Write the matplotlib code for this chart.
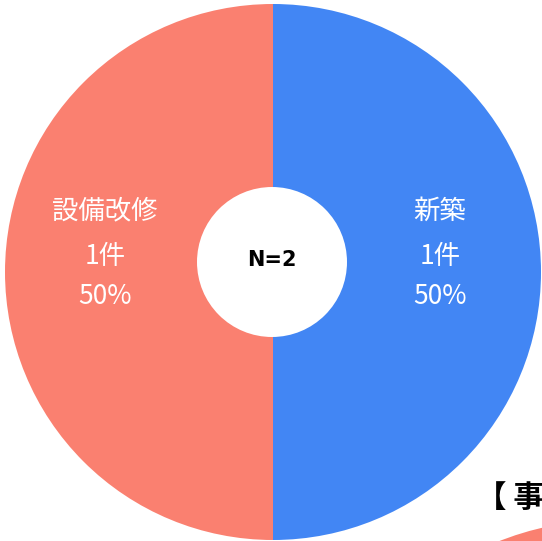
import matplotlib.pyplot as plt
from matplotlib.patches import Circle

plt.rcParams['font.family'] = ['Noto Sans CJK JP', 'DejaVu Sans']

labels = ['新築', '設備改修']
counts = [1, 1]
colors = ['#4286f4', '#fa8070']
total = sum(counts)

W, H = 542, 541
fig = plt.figure(figsize=(W / 100, H / 100), dpi=100)
ax = fig.add_axes([0, 0, 1, 1])

cx, cy, r_out, r_in = 273, 269, 268, 75

# 下の別チャートの一部（右下にはみ出している）
ax.add_patch(Circle((610, -280), 301, color='#fa8070', lw=0))
ax.text(476, 43, '【 事', fontsize=22, fontweight='bold', ha='left', va='center')

ax.pie(counts, colors=colors, startangle=90, counterclock=False,
       center=(cx, cy), radius=r_out, frame=True,
       wedgeprops=dict(linewidth=0))
# 中央の白い穴（少し上寄り）
ax.add_patch(Circle((272, 279), r_in, color='white', lw=0, zorder=3))
ax.set_xlim(0, W)
ax.set_ylim(0, H)
ax.set_aspect('equal')
ax.axis('off')

ax.text(272, 281, f'N={total}', fontsize=15, fontweight='bold',
        family='DejaVu Sans', ha='center', va='center', zorder=4)

label_x = [440, 105]
for x, lab, c in zip(label_x, labels, counts):
    ax.text(x, H - 211, lab, color='white', fontsize=19, ha='center', va='center')
    ax.text(x, H - 256, f'{c}件', color='white', fontsize=19, ha='center', va='center')
    ax.text(x, H - 296, f'{c / total * 100:.0f}%', color='white', fontsize=19,
            ha='center', va='center')

fig.savefig('out.png', dpi=100)
